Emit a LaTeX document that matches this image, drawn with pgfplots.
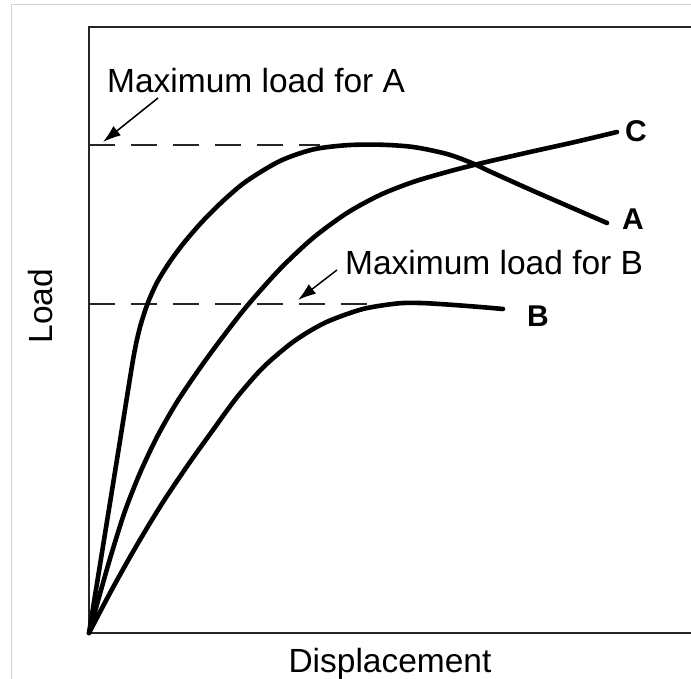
\documentclass[border=0pt]{standalone}
\usepackage{fontspec}
\setmainfont{Liberation Sans}
\usepackage{pgfplots}
\pgfplotsset{compat=1.18}
\usetikzlibrary{arrows.meta}

\begin{document}
\begin{tikzpicture}
% image border
\draw[black!18, line width=1pt] (-77.3pt,-46pt) -- (-77.3pt,628.7pt) -- (602pt,628.7pt);
\begin{axis}[
    at={(0pt,0pt)}, anchor=south west,
    scale only axis, width=611pt, height=606pt,
    xmin=0, xmax=611, ymin=0, ymax=606,
    xtick=\empty, ytick=\empty,
    axis line style={black!85, line width=1.8pt},
    clip=false,
]
% maximum load levels
\addplot[black!85, line width=2pt, dash pattern=on 26pt off 16pt] coordinates {(0,488) (231,488)};
\addplot[black!85, line width=2pt, dash pattern=on 26pt off 16pt] coordinates {(0,328.5) (284,328.5)};

% curve A
\addplot[black, line width=4.6pt, smooth, line cap=round] coordinates {
    (0,0) (15,93) (30,186) (44,273) (50,302) (55,319) (60,333) (68,350.5) (80,370)
    (95,390.3) (115,413.3) (136,433.9) (158,452.2) (191,472) (224,483.5) (258,487.8)
    (291,488.3) (324,486) (358,479) (384,469.5) (401,461.5) (441,443.5)
    (480,426.5) (518,410)
};
% curve C
\addplot[black, line width=4.6pt, smooth, line cap=round] coordinates {
    (0,0) (14,50) (23,81) (36,122) (51,160) (68,196) (88,231) (111,265) (133,295)
    (158,327) (191,364) (224,395) (258,420) (291,438) (324,451) (358,461) (389,469)
    (441,481) (486,491) (528,501)
};
% curve B
\addplot[black, line width=4.6pt, smooth, line cap=round] coordinates {
    (0,0) (12,23) (24,45.5) (41,76) (58,105) (76,134) (101,171) (124,203)
    (138,222.5) (151,239.5) (174,265.5) (200,288) (220,301.5) (241,312.5)
    (274,324) (308,329.5) (331,330) (358,328.5) (391,326) (414,324)
};

% annotations
\draw[black, line width=1.5pt, -{Latex[length=18pt,width=12pt]}] (axis cs:69,535) -- (axis cs:14,491);
\draw[black, line width=1.5pt, -{Latex[length=18pt,width=12pt]}] (axis cs:248,363) -- (axis cs:209,333);
\node[anchor=base west, inner sep=0pt, font=\fontsize{33.5}{40}\selectfont] at (axis cs:18,540) {Maximum load for A};
\node[anchor=base west, inner sep=0pt, font=\fontsize{33.5}{40}\selectfont] at (axis cs:256,358) {Maximum load for B};
\node[anchor=base west, inner sep=0pt, font=\bfseries\fontsize{30}{36}\selectfont] at (axis cs:536,491) {C};
\node[anchor=base west, inner sep=0pt, font=\bfseries\fontsize{30}{36}\selectfont] at (axis cs:533,403) {A};
\node[anchor=base west, inner sep=0pt, font=\bfseries\fontsize{30}{36}\selectfont] at (axis cs:438,306) {B};
\end{axis}
\node[rotate=90, anchor=base, inner sep=0pt, font=\fontsize{33.5}{40}\selectfont] at (-36pt,327pt) {Load};
\node[anchor=base, inner sep=0pt, font=\fontsize{33.5}{40}\selectfont] at (301pt,-40pt) {Displacement};
\pgfresetboundingbox
\useasboundingbox (-89pt,-46pt) rectangle (602pt,633pt);
\end{tikzpicture}
\end{document}
